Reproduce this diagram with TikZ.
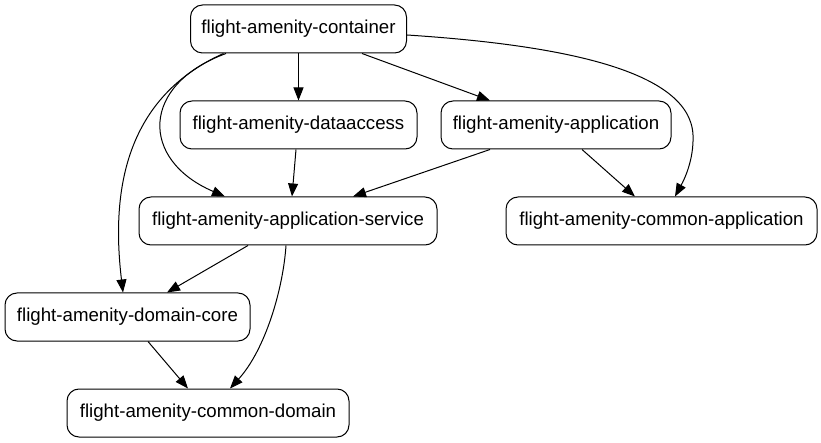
\documentclass[tikz,border=0pt]{standalone}
\usepackage{fontspec}
\setmainfont{Liberation Sans}
\usetikzlibrary{arrows.meta}
\begin{document}
\begin{tikzpicture}[x=1pt,y=-1pt,
  box/.style={draw,line width=1pt,rounded corners=12pt,minimum height=48pt,inner sep=0pt,font=\fontsize{18.67}{22}\selectfont},
  edge/.style={line width=1pt,-{Triangle[length=13pt,width=10pt]}}]
\useasboundingbox (0,0) rectangle (821,443);
\node[box,minimum width=216pt] (c) at (298.5,29) {flight-amenity-container};
\node[box,minimum width=237pt] (da) at (298.5,125) {flight-amenity-dataaccess};
\node[box,minimum width=230pt] (app) at (556,125) {flight-amenity-application};
\node[box,minimum width=298pt] (as) at (288,221) {flight-amenity-application-service};
\node[box,minimum width=311pt] (capp) at (661.5,221) {flight-amenity-common-application};
\node[box,minimum width=245pt] (dc) at (127.5,317) {flight-amenity-domain-core};
\node[box,minimum width=282pt] (cd) at (208,413) {flight-amenity-common-domain};
% edges
\draw[edge] (c.south) -- (da.north);
\draw[edge] ([xshift=63.5pt]c.south) -- ([xshift=-66pt]app.north);
\draw[edge] ([yshift=-6pt]c.east) .. controls (560,45) and (690,70) .. (693,135) .. controls (694,160) and (684,180) .. ([xshift=13.5pt]capp.north);
\draw[edge] ([xshift=-72.5pt]c.south) .. controls (140,85) and (140,160) .. ([xshift=-63pt]as.north);
\draw[edge] ([xshift=-75pt]c.south) .. controls (120,100) and (112,200) .. ([xshift=-4.5pt]dc.north);
\draw[edge] ([xshift=-2.5pt]da.south) -- ([xshift=4pt]as.north);
\draw[edge] ([xshift=-66pt]app.south) -- ([xshift=65pt]as.north);
\draw[edge] ([xshift=26pt]app.south) -- ([xshift=-26.5pt]capp.north);
\draw[edge] ([xshift=-40pt]as.south) -- ([xshift=39.5pt]dc.north);
\draw[edge] ([xshift=-2pt]as.south) .. controls (283,290) and (265,350) .. ([xshift=22pt]cd.north);
\draw[edge] ([xshift=20.5pt]dc.south) -- ([xshift=-20pt]cd.north);
\end{tikzpicture}
\end{document}
